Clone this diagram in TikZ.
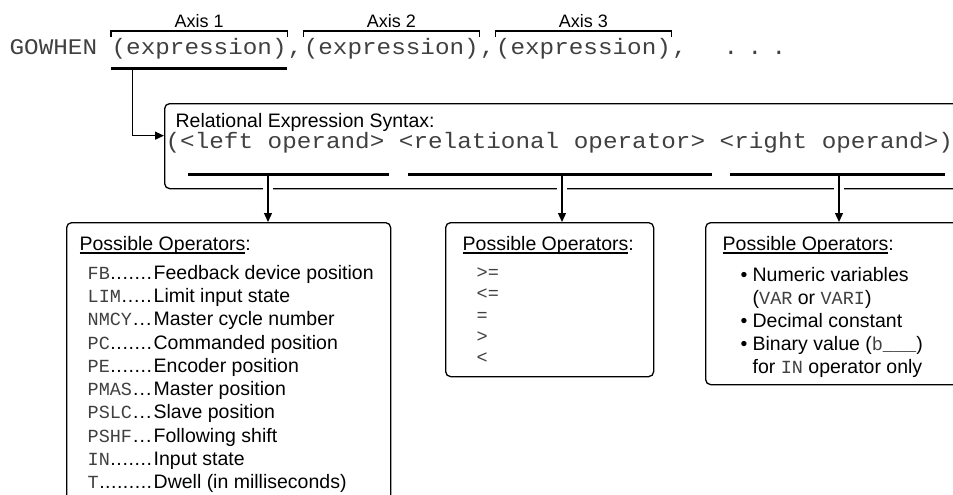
\documentclass[tikz,border=0pt]{standalone}
\usepackage{fontspec}
\setmainfont{Liberation Sans}
\setmonofont{Liberation Mono}
\usepackage{graphicx}
\usepackage{tikz}
\usetikzlibrary{arrows.meta, positioning, calc}

\definecolor{codegray}{gray}{0.25}
\newcommand{\txtfont}{\fontsize{19.5pt}{23pt}\selectfont}
\newcommand{\axisfont}{\fontsize{18pt}{21pt}\selectfont}
\newcommand{\bcode}[1]{{\fontsize{24.3pt}{28pt}\selectfont\ttfamily\scalebox{1}[0.92]{#1}}}
\newcommand{\scode}[1]{{\color{codegray}\fontsize{18.5pt}{20pt}\selectfont\ttfamily #1}}
\newcommand{\opline}[2]{\makebox[66pt][l]{\scode{#1}\xleaders\hbox{.}\hfill\kern1pt}#2}
\newcommand{\bul}{\makebox[12pt][l]{\textbullet}}
\newsavebox{\headbox}
\newcommand{\ulhead}[1]{\sbox{\headbox}{#1}\rlap{\rule[-3.5pt]{\wd\headbox}{1.4pt}}\usebox{\headbox}}

\tikzset{
  every picture/.style={line width=1.3pt},
  opbox/.style={draw, rounded corners=5pt, inner sep=0pt, anchor=north west},
  code/.style={text=codegray, inner sep=0pt},
  txt/.style={font=\txtfont, inner sep=0pt},
  axislabel/.style={font=\axisfont, inner sep=0pt},
  item/.style={font=\txtfont, inner sep=0pt, anchor=north west, text height=15.5pt, text depth=6.5pt},
  mitem/.style={item, text height=14pt, text depth=6pt},
  ritem/.style={item, text height=15.5pt, text depth=6.2pt},
  link/.style={-{Triangle[length=9pt, width=8pt]}},
  halo/.style={preaction={draw=white, line width=10pt}},
  uline/.style={line width=3pt},
  axisbracket/.style={line width=1.2pt}
}

\begin{document}
\begin{tikzpicture}[x=1pt, y=-1pt]
    \useasboundingbox (0,0) rectangle (953,495);
    \clip (0,0) rectangle (953,495);

    % command line
    \node [code, anchor=base west] (gowhen) at (9,55) {\bcode{GOWHEN}};
    \node [code, anchor=base west] (ex1) at (111,55) {\bcode{(expression)}};
    \node [code, base right=0pt of ex1] (c1) {\bcode{,}};
    \node [code, base right=0pt of c1] (ex2) {\bcode{(expression)}};
    \node [code, base right=0pt of ex2] (c2) {\bcode{,}};
    \node [code, base right=0pt of c2] (ex3) {\bcode{(expression)}};
    \node [code, base right=0pt of ex3] (c3) {\bcode{,}};
    \node [code, anchor=base west] (more) at (723,55) {\bcode{.\hspace{9.4pt}.\hspace{9.4pt}.}};

    \node [axislabel] (ax1) at ([yshift=34pt]ex1.base) {Axis 1};
    \node [axislabel] (ax2) at ([yshift=34pt]ex2.base) {Axis 2};
    \node [axislabel] (ax3) at ([yshift=34pt]ex3.base) {Axis 3};

    \draw [axisbracket] ([yshift=18pt]ex1.base west) |- ([yshift=24pt]ex1.base east) -- ([yshift=18pt]ex1.base east);
    \draw [axisbracket] ([yshift=18pt]ex2.base west) |- ([yshift=24pt]ex2.base east) -- ([yshift=18pt]ex2.base east);
    \draw [axisbracket] ([yshift=18pt]ex3.base west) |- ([yshift=24pt]ex3.base east) -- ([yshift=18pt]ex3.base east);

    \draw [uline] ([yshift=-14pt]ex1.base west) -- ([yshift=-14pt]ex1.base east);
    \coordinate (tap) at ([xshift=21.5pt, yshift=-14pt]ex1.base west);

    % relational expression
    \node [opbox, minimum width=830pt, minimum height=85pt] (rel) at (164,103) {};
    \node [txt, anchor=base west] (relhead) at (175,127) {Relational Expression Syntax:};
    \node [code, anchor=base west] (relsyn) at (165,148) {\bcode{(<left operand> <relational operator> <right operand>)}};

    \draw [link] (tap) |- ([yshift=10.5pt]rel.west);

    \coordinate (lopd) at (268,174);
    \coordinate (rop) at (562,174);
    \coordinate (ropd) at (839,174);

    \node [opbox, minimum width=324pt, minimum height=300pt] (leftops) at (66,222) {};
    \node [opbox, minimum width=208pt, minimum height=154pt] (midops) at (445,222) {};
    \node [opbox, minimum width=290pt, minimum height=162pt] (rightops) at (705,222) {};

    \draw [link, halo] (lopd) -- (lopd |- leftops.north);
    \draw [link, halo] (rop) -- (rop |- midops.north);
    \draw [link, halo] (ropd) -- (ropd |- rightops.north);

    \draw [uline] (188,174) -- (389,174);
    \draw [uline] (408,174) -- (712,174);
    \draw [uline] (730,174) -- (945,174);

    % left operands
    \node [txt, anchor=base west] (lhead) at (79,250) {\ulhead{Possible Operators}:};
    \node [item] (fb) at (87,263) {\opline{FB}{Feedback device position}};
    \node [item] (lim) at (fb.south west) {\opline{LIM}{Limit input state}};
    \node [item] (nmcy) at (lim.south west) {\opline{NMCY}{Master cycle number}};
    \node [item] (pc) at (nmcy.south west) {\opline{PC}{Commanded position}};
    \node [item] (pe) at (pc.south west) {\opline{PE}{Encoder position}};
    \node [item] (pmas) at (pe.south west) {\opline{PMAS}{Master position}};
    \node [item] (pslc) at (pmas.south west) {\opline{PSLC}{Slave position}};
    \node [item] (pshf) at (pslc.south west) {\opline{PSHF}{Following shift}};
    \node [item] (in) at (pshf.south west) {\opline{IN}{Input state}};
    \node [item] (t) at (in.south west) {\opline{T}{Dwell (in milliseconds)}};

    % relational operators
    \node [txt, anchor=base west] (mhead) at (462,250) {\ulhead{Possible Operators}:};
    \node [mitem] (ge) at (476,264) {\scode{>=}};
    \node [mitem] (le) at (ge.south west) {\scode{<=}};
    \node [mitem] (eq) at (le.south west) {\scode{=}};
    \node [mitem] (gt) at (eq.south west) {\scode{>}};
    \node [mitem] (lt) at (gt.south west) {\scode{<}};

    % right operands
    \node [txt, anchor=base west] (rhead) at (722,250) {\ulhead{Possible Operators}:};
    \node [ritem] (numvar) at (740,265) {\bul Numeric variables};
    \node [ritem] (varnames) at (numvar.south west) {\hspace*{12pt}(\scode{VAR} or \scode{VARI})};
    \node [ritem] (deci) at (varnames.south west) {\bul Decimal constant};
    \node [ritem] (bin) at (deci.south west) {\bul Binary value (\scode{b\_\_\_})};
    \node [ritem] (binnote) at (bin.south west) {\hspace*{12pt}for \scode{IN} operator only};
  \end{tikzpicture}
\end{document}
